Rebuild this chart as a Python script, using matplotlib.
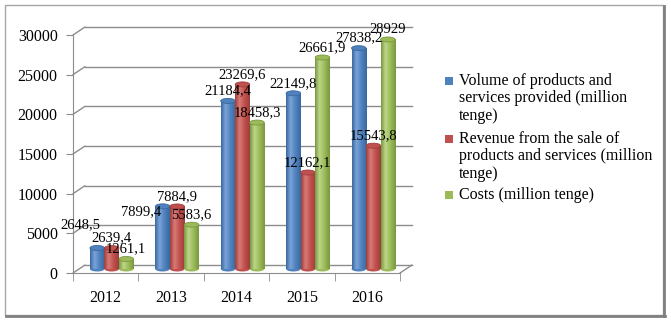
import numpy as np
import matplotlib
matplotlib.use("Agg")
import matplotlib.pyplot as plt
from matplotlib import transforms
from matplotlib.colors import LinearSegmentedColormap
from matplotlib.patches import Ellipse, Rectangle, ConnectionPatch
from matplotlib.lines import Line2D

# data
years = ['2012', '2013', '2014', '2015', '2016']
volume = [2648.5, 7899.4, 21184.4, 22149.8, 27838.2]
revenue = [2639.4, 7884.9, 23269.6, 12162.1, 15543.8]
costs = [1261.1, 5583.6, 18458.3, 26661.9, 28929]
series_names = ['Volume of products and\nservices provided (million\ntenge)',
                'Revenue from the sale of\nproducts and services (million\ntenge)',
                'Costs (million tenge)']
yticks = [0, 5000, 10000, 15000, 20000, 25000, 30000]

# colours: (edge, highlight, base)
shades = [('#3a689f', '#7aa3d8', '#4f81bd'),
          ('#9c3e3b', '#d97a77', '#c0504d'),
          ('#7a983f', '#bcd68a', '#9bbb59')]

# labels that were dragged away from the default spot (pixels)
label_moves = {(0, 0): (-17, 13), (0, 1): (-22, -15)}

plt.rcParams['font.family'] = ['Liberation Serif', 'DejaVu Serif']

W, H = 671, 322
fig = plt.figure(figsize=(W / 100, H / 100), dpi=100)
ax = fig.add_axes([73 / W, (H - 273) / H, (400 - 73) / W, 238 / H])
ax.set_xlim(-0.5, 4.5)
ax.set_ylim(0, 30000)

depth = (12, 8)  # back wall offset in pixels
back = ax.transData + transforms.ScaledTranslation(depth[0] / 100, depth[1] / 100, fig.dpi_scale_trans)
mid = ax.transData + transforms.ScaledTranslation(depth[0] / 200, depth[1] / 200, fig.dpi_scale_trans)

grid_c = '#8c8c8c'
for t in yticks:
    ax.plot([-0.5, 4.5], [t, t], color=grid_c, lw=1, transform=back, clip_on=False, zorder=1)
    ax.add_artist(ConnectionPatch((-0.5, t), (-0.5, t), coordsA=ax.transData, coordsB=back,
                                  color=grid_c, lw=1, zorder=1))
ax.add_artist(ConnectionPatch((4.5, 0), (4.5, 0), coordsA=ax.transData, coordsB=back,
                              color=grid_c, lw=1, zorder=1))

for s in ['top', 'right']:
    ax.spines[s].set_visible(False)
for s in ['left', 'bottom']:
    ax.spines[s].set_color(grid_c)
ax.set_yticks(yticks)
ax.set_yticklabels([str(t) for t in yticks], fontsize=11.5)
ax.set_xticks(range(len(years)))
ax.set_xticklabels(years, fontsize=11.5)
ax.set_xticks(np.arange(-0.5, 5, 1), minor=True)
ax.tick_params(axis='x', which='major', length=0, pad=12)
ax.tick_params(axis='x', which='minor', length=6, color=grid_c)
ax.tick_params(axis='y', length=5, color=grid_c, pad=6)
ax.patch.set_visible(False)

bw = 0.222
px_per_unit = 238 / 30000
eh = 5 / px_per_unit  # ellipse height in data units
grad = np.linspace(0, 1, 64).reshape(1, -1)

for k, vals in enumerate([volume, revenue, costs]):
    edge, light, base = shades[k]
    cmap = LinearSegmentedColormap.from_list('c%d' % k, [(0, edge), (0.3, light), (0.65, base), (1, edge)])
    for i, v in enumerate(vals):
        x = i + (k - 1) * bw
        bars = ax.bar(x, v, width=bw, color=base, transform=mid, clip_on=False, zorder=3 + k)
        im = ax.imshow(grad, cmap=cmap, extent=[x - bw / 2, x + bw / 2, -eh / 2, v], aspect='auto',
                       transform=mid, zorder=3 + k)
        im.set_clip_path(bars[0])
        ax.add_patch(Ellipse((x, 0), bw, eh, transform=mid, facecolor=base, zorder=2.9 + k, clip_on=False))
        ax.add_patch(Ellipse((x, v), bw, eh, transform=mid, facecolor=base, edgecolor=edge, lw=0.6,
                             zorder=3.5 + k, clip_on=False))
        dx, dy = label_moves.get((k, i), (0, 0))
        ax.annotate(f'{v:g}'.replace('.', ','), (x, v), xycoords=mid, xytext=(dx, 10 + dy),
                    textcoords='offset pixels', ha='center', va='center', fontsize=10.5, zorder=10,
                    annotation_clip=False)

ax.set_xlim(-0.5, 4.5)
ax.set_ylim(0, 30000)

# legend
leg_y = [81, 139, 195]
for k, name in enumerate(series_names):
    fig.add_artist(Rectangle((445 / W, (H - leg_y[k] - 4) / H), 8 / W, 8 / H,
                             transform=fig.transFigure, facecolor=shades[k][2], edgecolor='none'))
    fig.text(459 / W, (H - leg_y[k] + 8) / H, name, fontsize=11.5, va='top', ha='left', linespacing=1.12)

# outer frame with shadow
fig.add_artist(Rectangle((5 / W, (H - 315) / H), 658 / W, 310 / H, transform=fig.transFigure,
                         facecolor='none', edgecolor='#a6a6a6', lw=1))
fig.add_artist(Line2D([664 / W, 664 / W], [(H - 316) / H, (H - 6) / H], transform=fig.transFigure,
                      color='#808080', lw=2))
fig.add_artist(Line2D([6 / W, 665 / W], [(H - 316) / H, (H - 316) / H], transform=fig.transFigure,
                      color='#808080', lw=2))

fig.savefig('out.png', dpi=100)
